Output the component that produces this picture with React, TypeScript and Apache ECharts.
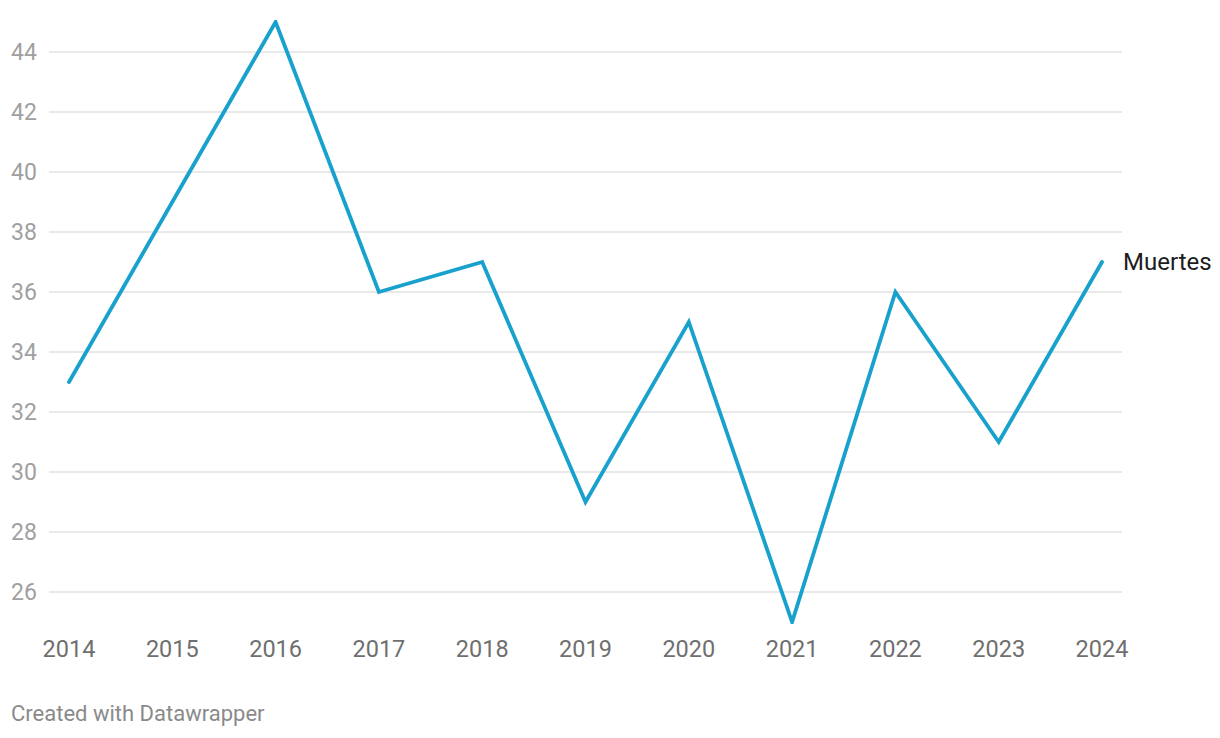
import React, { useEffect, useRef } from "react";
import * as echarts from "echarts";

const years = ["2014", "2015", "2016", "2017", "2018", "2019", "2020", "2021", "2022", "2023", "2024"];
const muertes = [33, 39, 45, 36, 37, 29, 35, 25, 36, 31, 37];
const seriesName = "Muertes";
const credit = "Created with Datawrapper";

export default function App() {
  const ref = useRef<HTMLDivElement>(null);
  useEffect(() => {
    if (!ref.current) return;
    const chart = echarts.init(ref.current, null, { renderer: "svg" });
    chart.setOption({
      animation: false,
      backgroundColor: "#ffffff",
      textStyle: { fontFamily: "Roboto" },
      grid: [
        { left: 49, right: 98, top: 22, bottom: 86 },
        { left: 69, right: 118, top: 22, bottom: 116 },
      ],
      xAxis: [
        { type: "category", gridIndex: 0, data: years, show: false },
        {
          type: "category",
          gridIndex: 1,
          data: years,
          boundaryGap: false,
          axisLine: { show: false },
          axisTick: { show: false },
          splitLine: { show: false },
          axisLabel: { color: "#6f6f6f", fontSize: 23.5, fontFamily: "Roboto", margin: 15 },
        },
      ],
      yAxis: [
        {
          type: "value",
          min: 24,
          max: 45,
          interval: 2,
          gridIndex: 0,
          axisLine: { show: false },
          axisTick: { show: false },
          axisLabel: {
            color: "#a0a0a0",
            fontSize: 23,
            fontFamily: "Roboto",
            align: "left",
            margin: 38,
            showMinLabel: false,
            showMaxLabel: false,
          },
          splitLine: { show: true, showMinLine: false, showMaxLine: false, lineStyle: { color: "#e2e2e2", width: 1.5 } },
        },
        { type: "value", min: 25, max: 45, gridIndex: 1, show: false, splitLine: { show: false } },
      ],
      series: [
        {
          type: "line",
          name: seriesName,
          xAxisIndex: 1,
          yAxisIndex: 1,
          data: muertes,
          showSymbol: false,
          symbol: "none",
          lineStyle: { color: "#18a1cd", width: 3.8, cap: "round", join: "miter" },
          endLabel: {
            show: true,
            formatter: seriesName,
            color: "#1d1d1d",
            fontSize: 24,
            fontFamily: "Roboto",
            distance: 21,
          },
        },
      ],
      graphic: [
        {
          type: "text",
          left: 11,
          top: 702,
          style: { text: credit, fill: "#8a8a8a", fontSize: 22, fontFamily: "Roboto" },
        },
      ],
    });
    return () => chart.dispose();
  }, []);
  return <div ref={ref} style={{ position: "fixed", left: 0, top: 0, width: 1220, height: 738 }} />;
}
